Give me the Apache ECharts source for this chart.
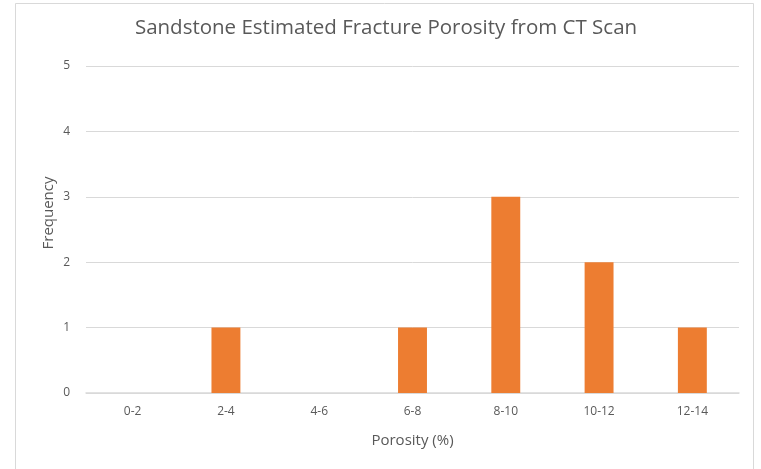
<!DOCTYPE html>
<html>
<head>
<meta charset="utf-8">
<script src="https://cdn.jsdelivr.net/npm/echarts@6/dist/echarts.min.js"></script>
<style>
  html, body { margin: 0; padding: 0; background: #ffffff; }
  #chart { width: 761px; height: 469px; }
</style>
</head>
<body>
<div id="chart"></div>
<script>
// Porosity bins (%) and how many samples fall in each
const categories = ['0-2', '2-4', '4-6', '6-8', '8-10', '10-12', '12-14'];
const frequency = [0, 1, 0, 1, 3, 2, 1];
const yTicks = [0, 1, 2, 3, 4, 5];

const FONT = '"Open Sans", "Noto Sans", sans-serif';
const TEXT = '#595959';
const GRID = '#d9d9d9';

const chart = echarts.init(document.getElementById('chart'), null, { renderer: 'canvas' });

chart.setOption({
  backgroundColor: '#ffffff',
  animation: false,
  graphic: [{
    type: 'rect',
    shape: { x: 15.5, y: 3.5, width: 738, height: 480 },
    style: { fill: 'none', stroke: '#d9d9d9', lineWidth: 1 },
    silent: true
  }],
  title: {
    text: 'Sandstone Estimated Fracture Porosity from CT Scan',
    left: 381,
    textAlign: 'center',
    top: 13,
    textStyle: { fontFamily: FONT, fontSize: 20.5, fontWeight: 'normal', color: TEXT }
  },
  grid: { left: 86, right: 22, top: 66, bottom: 76, containLabel: false },
  xAxis: {
    type: 'category',
    data: categories,
    name: 'Porosity (%)',
    nameLocation: 'middle',
    nameGap: 40,
    nameMoveOverlap: false,
    nameTextStyle: { fontFamily: FONT, fontSize: 15, color: TEXT },
    axisLine: { show: true, lineStyle: { color: GRID, width: 1.5 } },
    axisTick: { show: false },
    axisLabel: { fontFamily: FONT, fontSize: 12, color: TEXT, margin: 13 }
  },
  yAxis: {
    type: 'value',
    min: yTicks[0],
    max: yTicks[yTicks.length - 1],
    interval: 1,
    name: 'Frequency',
    nameLocation: 'middle',
    nameGap: 30,
    nameMoveOverlap: false,
    nameRotate: 90,
    nameTextStyle: { fontFamily: FONT, fontSize: 15, color: TEXT, padding: [0, 0, 0, 33] },
    axisLine: { show: false },
    axisTick: { show: false },
    axisLabel: { fontFamily: FONT, fontSize: 12, color: TEXT, margin: 16 },
    splitLine: { lineStyle: { color: GRID, width: 1 } }
  },
  series: [{
    type: 'bar',
    data: frequency,
    barWidth: '31%',
    itemStyle: { color: '#ed7d31' }
  }]
});
</script>
</body>
</html>
